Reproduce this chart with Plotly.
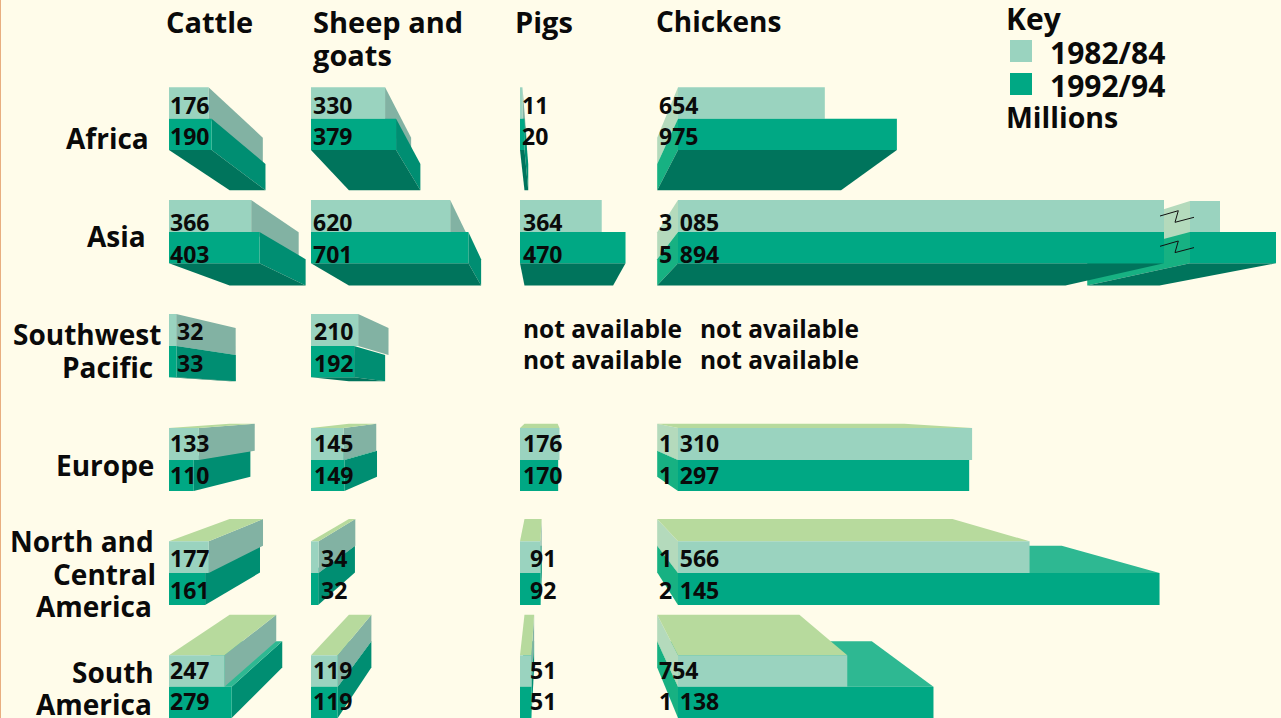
import plotly.graph_objects as go

# ---------- data (million head) ----------
regions = ["Africa", "Asia", "Southwest Pacific", "Europe", "North and Central America", "South America"]
periods = ["1982/84", "1992/94"]
cattle_8284 = [176, 366, 32, 133, 177, 247]
cattle_9294 = [190, 403, 33, 110, 161, 279]
sheep_8284 = [330, 620, 210, 145, 34, 119]
sheep_9294 = [379, 701, 192, 149, 32, 119]
pigs_8284 = [11, 364, None, 176, 91, 51]
pigs_9294 = [20, 470, None, 170, 92, 51]
chickens_8284 = [654, 3085, None, 1310, 1566, 754]
chickens_9294 = [975, 5894, None, 1297, 2145, 1138]
chicken_labels_8284 = ["654", "3\u2004085", "not available", "1\u2004310", "1\u2004566", "754"]
chicken_labels_9294 = ["975", "5\u2004894", "not available", "1\u2004297", "2\u2004145", "1\u2004138"]

# ---------- layout constants ----------
W, H = 1281, 718
PX_PER_UNIT = 0.2245            # pixels per million head, shared by all columns
ORIGIN_PX = 169
def u(px):                      # pixel column -> axis unit
    return (px - ORIGIN_PX) / PX_PER_UNIT

COL_ORIGIN = {"cattle": u(169), "sheep": u(311), "pigs": u(520), "chickens": u(678)}
ROW_Y = [(87.3, 118.7, 150), (200, 232, 263.3), (314, 346, 377.3),
         (428, 460, 491), (541.3, 573, 605), (655.3, 686.7, 718)]
LABEL_DY = [2, 6, 1, -1, 1, -1]
VX, VY, DEPTH = u(548), 402, 0.16   # vanishing point and depth of the extrusion

# axis break on the Asia chicken bars
BREAK_END = u(1164) - u(678)
BREAK_RESUME = u(1190) - u(678)
BREAK_V0, BREAK_RATIO = 1580, 0.0888

C = {
    0: dict(front="#9AD3BF", side="#82B2A3", top="#B7DA9D", left="#B4DABC"),
    1: dict(front="#00A884", side="#008E72", top="#2EB892", left="#17B182", bottom="#00745C"),
}
BG = "#FFFCEA"
FONT = "Open Sans"

fig = go.Figure()

def bx(x): return x + DEPTH * (VX - x)
def by(y): return y + DEPTH * (VY - y)

def poly(xs, ys, color):
    fig.add_trace(go.Scatter(x=xs + xs[:1], y=ys + ys[:1], mode="lines", fill="toself",
                             fillcolor=color, line=dict(width=0), hoverinfo="skip", showlegend=False))

def box(x0, x1, y0, y1, period):
    c = C[period]
    if x1 < VX:   # right side
        poly([x1, bx(x1), bx(x1), x1], [y0, by(y0), by(y1), y1], c["side"])
    if x0 > VX:   # left side
        poly([x0, bx(x0), bx(x0), x0], [y0, by(y0), by(y1), y1], c["left"])
    if y0 > VY:   # top
        poly([x0, x1, bx(x1), bx(x0)], [y0, y0, by(y0), by(y0)], c["top"])
    if y1 < VY and period == 1:   # underside
        poly([x0, x1, bx(x1), bx(x0)], [y1, y1, by(y1), by(y1)], c["bottom"])
    poly([x0, x1, x1, x0], [y0, y0, y1, y1], c["front"])

columns = [("cattle", cattle_8284, cattle_9294), ("sheep", sheep_8284, sheep_9294),
           ("pigs", pigs_8284, pigs_9294), ("chickens", chickens_8284, chickens_9294)]

for name, a, b in columns:
    o = COL_ORIGIN[name]
    for r, (v0, v1) in enumerate(zip(a, b)):
        if v0 is None:
            continue
        yt, ym, yb = ROW_Y[r]
        if name == "chickens" and v0 > BREAK_END:
            e0 = o + BREAK_RESUME + (v0 - BREAK_V0) * BREAK_RATIO
            e1 = o + BREAK_RESUME + (v1 - BREAK_V0) * BREAK_RATIO
            box(o + BREAK_RESUME, e0, yt + 1, ym + 1, 0)
            box(o + BREAK_RESUME, e1, ym, yb, 1)
            v0 = v1 = BREAK_END
        order = [(0, v0, yt, ym), (1, v1, ym, yb)]
        if ym > VY:
            order.reverse()
        for p, v, y0, y1 in order:
            box(o, o + v, y0, y1, p)

# break marks
for dy in (0, 30.3):
    fig.add_trace(go.Scatter(x=[u(1160), u(1178.3), u(1175), u(1194)],
                             y=[216 + dy, 210.7 + dy, 222.3 + dy, 217.3 + dy], mode="lines",
                             line=dict(color="#111111", width=1), hoverinfo="skip", showlegend=False))

# left page rule
fig.add_shape(type="line", x0=u(0.5), x1=u(0.5), y0=0, y1=H, xref="x", yref="y",
              line=dict(color="#E8AE80", width=1))

def text(s, px, y, size=23, anchor="left"):
    fig.add_annotation(x=u(px), y=y, text=s, xref="x", yref="y", xanchor=anchor, yanchor="middle",
                       showarrow=False, align=anchor, borderpad=0, borderwidth=0,
                       font=dict(family=FONT, size=size, color="#0A0A0A", weight=700))

# value labels
LABEL_X = {
    "cattle": [170, 170, 177, 170, 170, 170],
    "sheep": [313, 313, 314, 314, 321, 313],
    "pigs": [522, 523, 523, 523, 530, 530],
    "chickens": [659, 659, 700, 659, 659, 659],
}
for name, a, b in columns:
    for r, (v0, v1) in enumerate(zip(a, b)):
        yt, ym, yb = ROW_Y[r]
        if name == "chickens":
            l0, l1 = chicken_labels_8284[r], chicken_labels_9294[r]
        else:
            l0 = str(v0) if v0 is not None else "not available"
            l1 = str(v1) if v1 is not None else "not available"
        na = l0 == "not available"
        dy = LABEL_DY[r] - (3 if na else 0)
        size = 24.5 if na else 23
        text(l0, LABEL_X[name][r], (yt + ym) / 2 + dy, size)
        text(l1, LABEL_X[name][r], (ym + yb) / 2 + dy, size)

# headers
for s, x, y, size in [("Cattle", 166, 21, 29), ("Sheep and", 313, 21, 29), ("goats", 313, 54, 29),
                      ("Pigs", 515, 21, 29), ("Chickens", 656, 21, 28), ("Key", 1006, 18, 30),
                      ("Millions", 1006, 117, 28.5)]:
    text(s, x, y, size)

# row labels, one line each
for s, x, y in [("Africa", 149, 137.5), ("Asia", 146, 235.5), ("Southwest", 161, 333.5), ("Pacific", 153, 366.5),
                ("Europe", 154, 464.5), ("North and", 154, 540.5), ("Central", 156, 573.5), ("America", 152, 605.5),
                ("South", 154, 671.5), ("America", 152, 703.5)]:
    text(s, x, y, 28, "right")

# key
for i, (y0, y1) in enumerate([(40, 62), (73, 95)]):
    fig.add_shape(type="rect", x0=u(1010), x1=u(1032), y0=y0, y1=y1, xref="x", yref="y",
                  fillcolor=C[i]["front"], line=dict(width=0))
    text(periods[i], 1050, y0 + 12, 30)

fig.update_layout(
    width=W, height=H, autosize=False, margin=dict(l=0, r=0, t=0, b=0),
    paper_bgcolor=BG, plot_bgcolor=BG, showlegend=False,
    xaxis=dict(range=[u(0), u(W)], visible=False, fixedrange=True),
    yaxis=dict(range=[H, 0], visible=False, fixedrange=True),
)
fig.write_html("out.html", include_plotlyjs=True, config={"displayModeBar": False},
               post_script="document.body.style.margin='0';document.body.style.overflow='hidden';")
